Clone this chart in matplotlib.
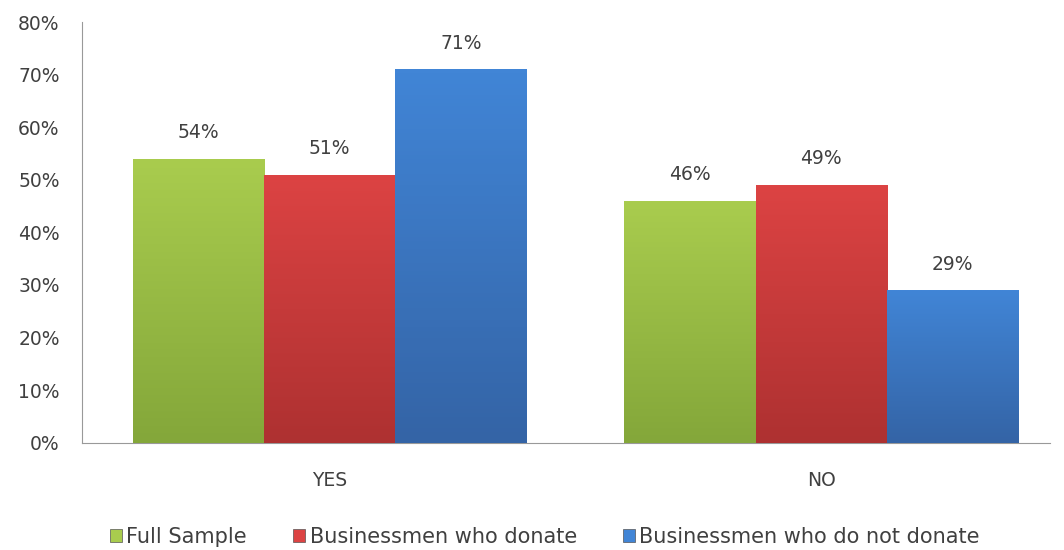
import numpy as np
import matplotlib.pyplot as plt
from matplotlib.colors import LinearSegmentedColormap
from matplotlib.patches import Patch

categories = ['YES', 'NO']
series_names = ['Full Sample', 'Businessmen who donate', 'Businessmen who do not donate']
full_sample = [0.54, 0.46]
donate = [0.51, 0.49]
not_donate = [0.71, 0.29]
yticks = [0, 0.1, 0.2, 0.3, 0.4, 0.5, 0.6, 0.7, 0.8]

# top colour, bottom colour for each series
colors = [('#a9cc4e', '#84a73a'), ('#dc4343', '#ae3131'), ('#4185d6', '#3464a6')]

plt.rcParams['font.family'] = ['DejaVu Sans']

fig = plt.figure(figsize=(10.64, 5.5), dpi=100)
ax = fig.add_axes([0.077, 0.195, 0.91, 0.765])

x = np.arange(len(categories))
w = 0.267
grad = np.linspace(0, 1, 100).reshape(-1, 1)

for i, vals in enumerate([full_sample, donate, not_donate]):
    top, bottom = colors[i]
    bars = ax.bar(x + (i - 1) * w, vals, w, color=top, edgecolor='#555555', linewidth=0.6, zorder=2)
    # gradient fill, light at top, darker at bottom
    cmap = LinearSegmentedColormap.from_list('g%d' % i, [bottom, top])
    for b, v in zip(bars, vals):
        bx, by = b.get_x(), b.get_y()
        im = ax.imshow(grad, cmap=cmap, aspect='auto', zorder=3,
                       extent=[bx, bx + b.get_width(), by + b.get_height(), by])
        im.set_clip_path(b)
        ax.annotate('%d%%' % round(v * 100), (b.get_x() + b.get_width() / 2, v),
                    xytext=(0, 12), textcoords='offset points', ha='center', va='bottom',
                    fontsize=13.5, color='#404040')

ax.set_xlim(-0.504, 1.466)
ax.set_ylim(0, 0.8)
ax.set_yticks(yticks)
ax.set_yticklabels(['%d%%' % round(t * 100) for t in yticks], fontsize=13.5, color='#404040')
ax.set_xticks(x)
ax.set_xticklabels(categories, fontsize=13.5, color='#404040')
ax.tick_params(axis='y', length=0, pad=16)
ax.tick_params(axis='x', length=0, pad=20)
for s in ['top', 'right']:
    ax.spines[s].set_visible(False)
for s in ['left', 'bottom']:
    ax.spines[s].set_color('#999999')
    ax.spines[s].set_linewidth(0.8)

handles = [Patch(facecolor=c[0], edgecolor='#555555', linewidth=0.5) for c in colors]
fig.legend(handles, series_names, loc='center', bbox_to_anchor=(0.512, 0.024), ncol=3,
           frameon=False, fontsize=15, handlelength=0.6, handleheight=0.6,
           handletextpad=0.2, columnspacing=2.2, labelcolor='#404040')

fig.savefig('out.png', dpi=100)
